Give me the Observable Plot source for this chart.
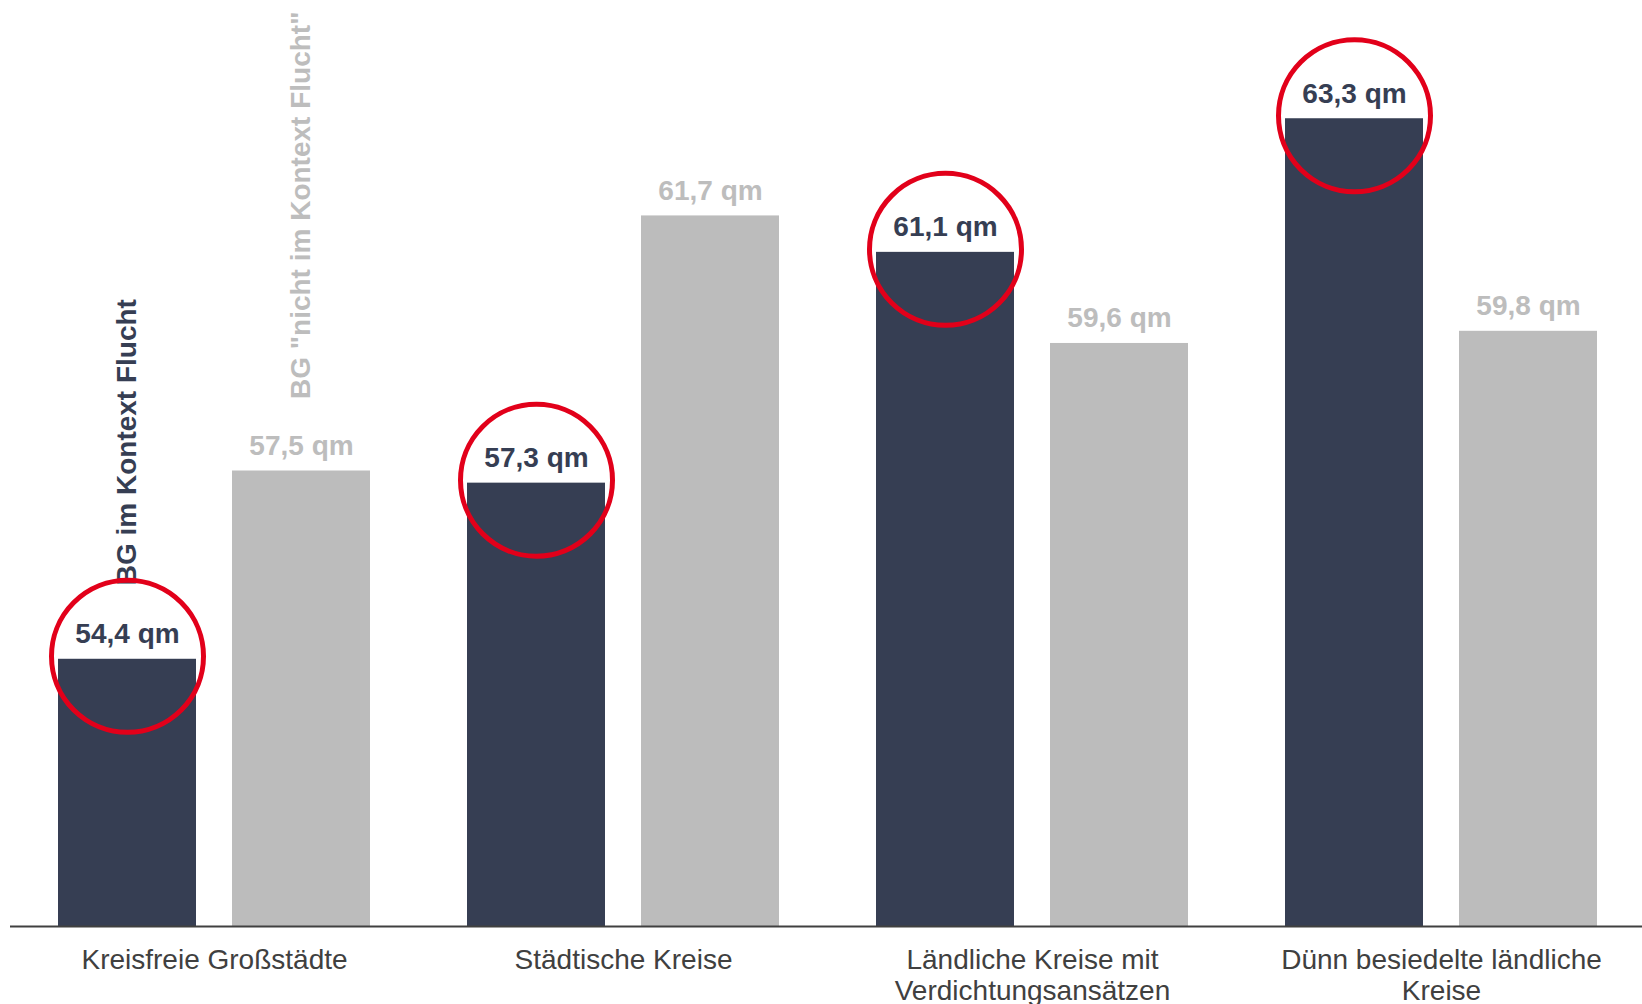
<!DOCTYPE html>
<html>
<head>
<meta charset="utf-8">
<script src="https://cdn.jsdelivr.net/npm/d3@7"></script>
<script src="https://cdn.jsdelivr.net/npm/@observablehq/plot@0.6"></script>
<style>
  html, body { margin: 0; padding: 0; background: #ffffff; }
  #chart { width: 1642px; height: 1004px; }
</style>
</head>
<body>
<div id="chart"></div>
<script>
// ---- data ----
const categories = [
  "Kreisfreie Großstädte",
  "Städtische Kreise",
  "Ländliche Kreise mit Verdichtungsansätzen",
  "Dünn besiedelte ländliche Kreise"
];
const tickLabels = [
  "Kreisfreie Großstädte",
  "Städtische Kreise",
  "Ländliche Kreise mit\nVerdichtungsansätzen",
  "Dünn besiedelte ländliche\nKreise"
];
const seriesNames = ["BG im Kontext Flucht", "BG \"nicht im Kontext Flucht\""];
const valuesFlucht = [54.4, 57.3, 61.1, 63.3];
const valuesNicht = [57.5, 61.7, 59.6, 59.8];
const yDomain = [50, 65];

// ---- styling ----
const darkColor = "#363e53";
const grayColor = "#bcbcbc";
const grayText = "#bdbdbd";
const redColor = "#e2001a";
const font = "'Liberation Sans', Arial, Helvetica, sans-serif";

const rowsFlucht = categories.map((c, i) => ({category: c, value: valuesFlucht[i], series: seriesNames[0]}));
const rowsNicht = categories.map((c, i) => ({category: c, value: valuesNicht[i], series: seriesNames[1]}));
const fmt = v => v.toFixed(1).replace(".", ",") + " qm";
const labelOf = new Map(categories.map((c, i) => [c, tickLabels[i]]));

const inset = 174;   // space left to the companion bar inside a group
const shift = 87;    // half of that, to centre labels on each bar

const chart = Plot.plot({
  width: 1642,
  height: 1004,
  marginLeft: 10,
  marginRight: 0,
  marginTop: 15,
  marginBottom: 78,
  style: {fontFamily: font, color: "#404040", background: "#ffffff", overflow: "visible"},
  x: {domain: categories, paddingInner: 0.2377, paddingOuter: 0.1136, align: 0.51, label: null},
  y: {domain: yDomain, clamp: true, axis: null},
  marks: [
    Plot.barY(rowsFlucht, {x: "category", y: "value", fill: darkColor, insetRight: inset}),
    Plot.barY(rowsNicht, {x: "category", y: "value", fill: grayColor, insetLeft: inset}),
    Plot.ruleY([yDomain[0]], {stroke: "#404040", strokeWidth: 2}),
    Plot.axisX({
      tickSize: 0, tickPadding: 21, fontSize: 28, lineHeight: 1.1,
      tickFormat: d => labelOf.get(d), fill: "#404040", label: null
    }),
    Plot.text(rowsFlucht, {x: "category", y: "value", text: d => fmt(d.value), dx: -shift, dy: -25,
      fontSize: 28, fontWeight: "bold", fill: darkColor}),
    Plot.text(rowsNicht, {x: "category", y: "value", text: d => fmt(d.value), dx: shift, dy: -25,
      fontSize: 28, fontWeight: "bold", fill: grayText}),
    Plot.text(rowsFlucht.slice(0, 1), {x: "category", y: "value", text: "series", rotate: -90,
      textAnchor: "start", dx: -shift, dy: -74, fontSize: 28, fontWeight: "bold", fill: darkColor}),
    Plot.text(rowsNicht.slice(0, 1), {x: "category", y: "value", text: "series", rotate: -90,
      textAnchor: "start", dx: shift, dy: -72, fontSize: 28, fontWeight: "bold", fill: grayText}),
    Plot.dot(rowsFlucht, {x: "category", y: "value", r: 76, dx: -shift, dy: -3, fill: "none",
      stroke: redColor, strokeWidth: 5})
  ]
});
document.getElementById("chart").appendChild(chart);
</script>
</body>
</html>
